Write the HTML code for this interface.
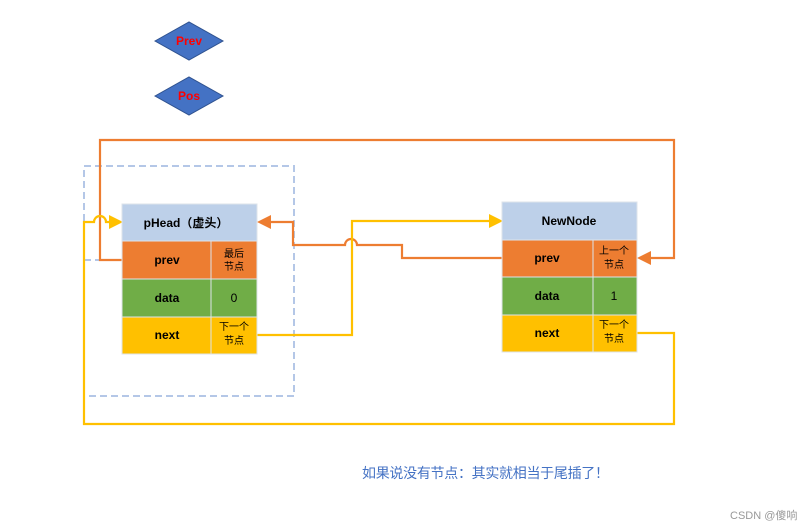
<!DOCTYPE html>
<html><head><meta charset="utf-8"><style>
html,body{margin:0;padding:0;background:#fff;}
svg{display:block;}
text{font-family:"Liberation Sans","Noto Sans CJK SC",sans-serif;}
</style></head><body>
<svg width="812" height="530" viewBox="0 0 812 530" xmlns="http://www.w3.org/2000/svg">
<rect width="812" height="530" fill="#fff"/>
<polygon points="155,41 189,22 223,41 189,60" fill="#4472c4" stroke="#2f528f" stroke-width="1"/>
<text x="189" y="45" font-size="12" font-weight="bold" fill="#ff0000" text-anchor="middle">Prev</text>
<polygon points="155,96 189,77 223,96 189,115" fill="#4472c4" stroke="#2f528f" stroke-width="1"/>
<text x="189" y="100" font-size="12" font-weight="bold" fill="#ff0000" text-anchor="middle">Pos</text>
<g stroke="#b4c7e7" stroke-width="2" fill="none" stroke-dasharray="7,4">
<rect x="84" y="166" width="210" height="230"/>
<line x1="84" y1="260" x2="122" y2="260"/>
<line x1="100" y1="162" x2="100" y2="166"/>
</g>
<g stroke="#ed7d31" stroke-width="2.2" fill="none">
<polyline points="122,260 100,260 100,140 674,140 674,258 648,258"/>
<path d="M502,258 L402,258 L402,245 L357,245 A6,6 0 0 0 345,245 L293,245 L293,222 L268,222"/>
</g>
<polygon points="637,258 651,251 651,265" fill="#ed7d31"/>
<polygon points="257,222 271,215 271,229" fill="#ed7d31"/>
<g stroke="#ffc000" stroke-width="2.2" fill="none">
<polyline points="257,335 352,335 352,221 492,221"/>
<path d="M637,333 L674,333 L674,424 L84,424 L84,222 L94,222 A6,6 0 0 1 106,222 L112,222"/>
</g>
<polygon points="503,221 489,214 489,228" fill="#ffc000"/>
<polygon points="123,222 109,215 109,229" fill="#ffc000"/>
<g stroke="#dde3ea" stroke-width="1">
<rect x="122" y="204" width="135" height="37" fill="#bdd0e9"/>
<rect x="122" y="241" width="89" height="38" fill="#ed7d31"/>
<rect x="211" y="241" width="46" height="38" fill="#ed7d31"/>
<rect x="122" y="279" width="89" height="38" fill="#70ad47"/>
<rect x="211" y="279" width="46" height="38" fill="#70ad47"/>
<rect x="122" y="317" width="89" height="37" fill="#ffc000"/>
<rect x="211" y="317" width="46" height="37" fill="#ffc000"/>
</g>
<g font-size="12" font-weight="bold" fill="#000" text-anchor="middle">
<text x="186" y="227">pHead（虚头）</text>
<text x="167" y="264">prev</text>
<text x="167" y="302">data</text>
<text x="167" y="339">next</text>
</g>
<g font-size="10" fill="#000" text-anchor="middle">
<text x="234" y="257">最后</text><text x="234" y="270">节点</text>
<text x="234" y="302" font-size="12">0</text>
<text x="234" y="330">下一个</text><text x="234" y="344">节点</text>
</g>
<g stroke="#dde3ea" stroke-width="1">
<rect x="502" y="202" width="135" height="38" fill="#bdd0e9"/>
<rect x="502" y="240" width="91" height="37" fill="#ed7d31"/>
<rect x="593" y="240" width="44" height="37" fill="#ed7d31"/>
<rect x="502" y="277" width="91" height="38" fill="#70ad47"/>
<rect x="593" y="277" width="44" height="38" fill="#70ad47"/>
<rect x="502" y="315" width="91" height="37" fill="#ffc000"/>
<rect x="593" y="315" width="44" height="37" fill="#ffc000"/>
</g>
<g font-size="12" font-weight="bold" fill="#000" text-anchor="middle">
<text x="569" y="225">NewNode</text>
<text x="547" y="262">prev</text>
<text x="547" y="300">data</text>
<text x="547" y="337">next</text>
</g>
<g font-size="10" fill="#000" text-anchor="middle">
<text x="614" y="254">上一个</text><text x="614" y="268">节点</text>
<text x="614" y="300" font-size="12">1</text>
<text x="614" y="328">下一个</text><text x="614" y="342">节点</text>
</g>
<text x="362" y="478" font-size="14" fill="#4472c4" textLength="247" lengthAdjust="spacing">如果说没有节点：其实就相当于尾插了！</text>
<text x="730" y="519" font-size="11" fill="#999">CSDN @傻响</text>
</svg>
</body></html>
